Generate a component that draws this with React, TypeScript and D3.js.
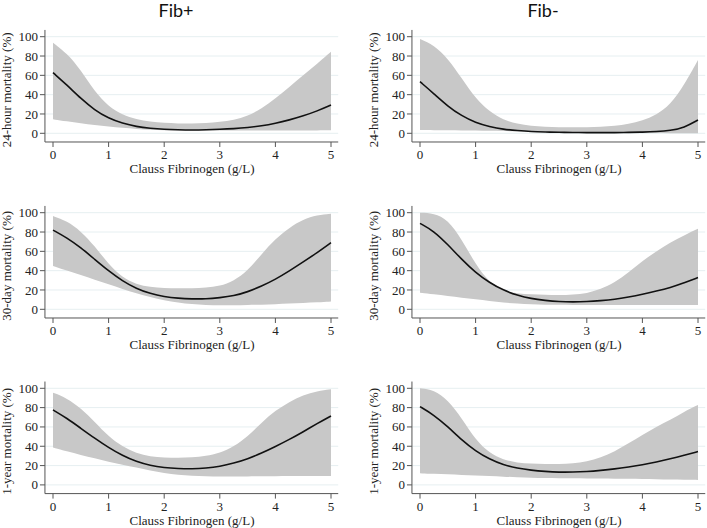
import React, { useEffect, useRef } from 'react';
import * as d3 from 'd3';

// fibrinogen values (g/L) where the curves were read
const fibX = [0, 0.25, 0.5, 0.75, 1, 1.25, 1.5, 1.75, 2, 2.25, 2.5, 2.75, 3, 3.25, 3.5, 3.75, 4, 4.25, 4.5, 4.75, 5];
const xTicks = [0, 1, 2, 3, 4, 5];
const yTicks = [0, 20, 40, 60, 80, 100];
const columnTitles = ['Fib+', 'Fib-'];
const rowLabels = ['24-hour mortality (%)', '30-day mortality (%)', '1-year mortality (%)'];
const xTitle = 'Clauss Fibrinogen (g/L)';

// 24-hour, Fib+
const h24PosFit = [62.8, 50, 36, 24, 15.5, 10.3, 6.9, 5.2, 4.1, 3.6, 3.4, 3.6, 4.1, 4.8, 5.9, 7.6, 10.3, 13.8, 18, 23, 29.3];
const h24PosHi = [93.8, 82.8, 65.5, 43, 27.6, 19, 14.5, 12, 10.7, 10.2, 10, 10.5, 11.7, 13.8, 18, 25.5, 36, 48, 60, 72, 84.5];
const h24PosLo = [14.5, 12.4, 10.3, 8.5, 6.9, 5.6, 4.5, 3.7, 3.1, 2.9, 2.8, 2.8, 2.8, 2.8, 2.8, 2.8, 2.8, 2.9, 3, 3, 3.1];
// 24-hour, Fib-
const h24NegFit = [53.4, 41, 28, 18, 11, 6.9, 4.1, 2.8, 1.7, 1.3, 1, 0.8, 0.7, 0.7, 0.7, 0.9, 1.2, 1.7, 2.8, 5.8, 13.8];
const h24NegHi = [97.6, 91.4, 77.6, 57, 36, 22.4, 13.8, 9.7, 7.6, 6.8, 6.2, 6.2, 6.2, 6.8, 7.6, 9.7, 13, 19, 29.3, 50, 75.9];
const h24NegLo = [3.4, 3.3, 3.1, 3, 2.8, 2.5, 2.3, 2, 1.7, 1.4, 1.2, 0.9, 0.7, 0.6, 0.5, 0.4, 0.3, 0.2, 0.1, 0.05, 0];
// 30-day, Fib+
const d30PosFit = [82, 74, 63.8, 51.7, 39.7, 29.3, 21.4, 16.2, 13.1, 11.4, 10.7, 10.7, 12, 13.8, 18, 24, 31, 39.7, 49, 58.6, 69];
const d30PosHi = [96.5, 91.4, 81, 65.5, 46.5, 32.8, 25.9, 23, 22, 21.8, 21.7, 22.3, 24, 29.3, 39.7, 57, 73, 84.5, 93, 97.6, 99];
const d30PosLo = [44.8, 40, 35.5, 30.7, 25.9, 21, 16.5, 12.6, 9.3, 7, 5.2, 4.5, 4.1, 4.2, 4.5, 4.8, 5.2, 5.9, 6.6, 7.3, 8];
// 30-day, Fib-
const d30NegFit = [89, 81, 67, 51.7, 38, 27.6, 19.7, 14.5, 11, 9.2, 7.9, 7.6, 7.9, 8.9, 10.3, 12.7, 15.5, 18.8, 22.4, 27.4, 32.8];
const d30NegHi = [100, 99.3, 93, 72.4, 46.5, 27.6, 19, 16.2, 15.5, 15, 14.5, 15.2, 16.5, 20.7, 27.6, 38, 50, 60, 69, 76.6, 83.4];
const d30NegLo = [17.2, 15.5, 13.8, 12, 10.3, 8.6, 6.9, 6, 5.2, 4.8, 4.6, 4.5, 4.5, 4.5, 4.5, 4.5, 4.5, 4.5, 4.5, 4.5, 4.5];
// 1-year, Fib+
const y1PosFit = [77.6, 69, 58.6, 48.3, 38.6, 30.3, 24, 20, 17.9, 16.9, 16.5, 17.3, 19, 22.4, 26.9, 32.8, 39.7, 47, 55, 63.5, 71.4];
const y1PosHi = [95.5, 89.7, 79.3, 65.5, 50, 39.7, 32.8, 29.3, 28.3, 28.1, 28.3, 29.8, 32.8, 39.7, 50, 64.5, 77, 86, 93, 97, 99];
const y1PosLo = [38.6, 34.8, 31, 27.5, 24, 21, 17.9, 14.8, 12, 10.4, 9.3, 8.8, 8.6, 8.7, 8.8, 8.9, 9, 9.1, 9.2, 9.3, 9.3];
// 1-year, Fib-
const y1NegFit = [81, 72.4, 60.3, 46.5, 35, 26.6, 20.7, 17.2, 15.2, 13.9, 13.1, 13.2, 13.8, 15, 16.5, 18.5, 20.7, 23.7, 26.9, 30.6, 34.5];
const y1NegHi = [100, 98.3, 88, 69, 46.5, 32.8, 25.9, 23, 22, 21.6, 21.4, 22.3, 24, 28.3, 34.5, 43, 51.7, 60.3, 67, 75.9, 82.8];
const y1NegLo = [12, 11.5, 11, 10.3, 9.7, 9.1, 8.6, 7.9, 7.2, 7, 6.9, 6.8, 6.7, 6.6, 6.5, 6.3, 6.2, 5.9, 5.6, 5.4, 5.2];

const panels = [
    [{ fit: h24PosFit, hi: h24PosHi, lo: h24PosLo }, { fit: h24NegFit, hi: h24NegHi, lo: h24NegLo }],
    [{ fit: d30PosFit, hi: d30PosHi, lo: d30PosLo }, { fit: d30NegFit, hi: d30NegHi, lo: d30NegLo }],
    [{ fit: y1PosFit, hi: y1PosHi, lo: y1PosLo }, { fit: y1NegFit, hi: y1NegHi, lo: y1NegLo }],
];

const App: React.FC = () => {
    const chartRef = useRef<SVGSVGElement>(null);

    useEffect(() => {
        const width = 707;
        const height = 528;
        const svg = d3.select(chartRef.current);
        svg.selectAll('*').remove();
        svg.attr('width', width).attr('height', height);

        const serif = '"Liberation Serif", "Times New Roman", serif';
        const colLeft = [53, 420];
        const rowTop = [36.7, 212.7, 388.3];
        const plotW = 278;
        const plotH = 96.6;

        columnTitles.forEach((t, c) => {
            svg.append('text')
                .attr('x', colLeft[c] + 123)
                .attr('y', 17)
                .attr('text-anchor', 'middle')
                .attr('font-family', 'Lato, "Open Sans", sans-serif')
                .attr('font-size', 18)
                .attr('fill', '#111')
                .text(t);
        });

        panels.forEach((row, r) => {
            row.forEach((p, c) => {
                const x = d3.scaleLinear().domain([0, 5]).range([colLeft[c], colLeft[c] + plotW]);
                const y = d3.scaleLinear().domain([0, 100]).range([rowTop[r] + plotH, rowTop[r]]);
                const g = svg.append('g');
                const axisLeft = x(-0.145);
                const axisRight = x(5.13);
                const axisBottom = y(-9);
                const axisTop = y(107);

                // light gridlines at the y ticks
                g.selectAll('line.grid')
                    .data(yTicks)
                    .enter()
                    .append('line')
                    .attr('x1', axisLeft)
                    .attr('x2', axisRight)
                    .attr('y1', d => y(d))
                    .attr('y2', d => y(d))
                    .attr('stroke', '#e6eff1')
                    .attr('stroke-width', 1);

                const pts = fibX.map((v, i) => ({ x: v, fit: p.fit[i], hi: p.hi[i], lo: p.lo[i] }));

                const area = d3.area<any>()
                    .x(d => x(d.x))
                    .y0(d => y(d.lo))
                    .y1(d => y(d.hi))
                    .curve(d3.curveBasis);

                g.append('path')
                    .attr('d', area(pts) as string)
                    .attr('fill', '#c8c8c8');

                const line = d3.line<any>()
                    .x(d => x(d.x))
                    .y(d => y(d.fit))
                    .curve(d3.curveBasis);

                g.append('path')
                    .attr('d', line(pts) as string)
                    .attr('fill', 'none')
                    .attr('stroke', '#111')
                    .attr('stroke-width', 1.6);

                // axes
                g.append('line')
                    .attr('x1', axisLeft).attr('x2', axisLeft)
                    .attr('y1', axisTop).attr('y2', axisBottom)
                    .attr('stroke', '#555').attr('stroke-width', 1);
                g.append('line')
                    .attr('x1', axisLeft).attr('x2', axisRight)
                    .attr('y1', axisBottom).attr('y2', axisBottom)
                    .attr('stroke', '#555').attr('stroke-width', 1);

                g.selectAll('line.yt')
                    .data(yTicks)
                    .enter()
                    .append('line')
                    .attr('x1', axisLeft - 5).attr('x2', axisLeft)
                    .attr('y1', d => y(d)).attr('y2', d => y(d))
                    .attr('stroke', '#555');
                g.selectAll('text.yt')
                    .data(yTicks)
                    .enter()
                    .append('text')
                    .attr('x', axisLeft - 7)
                    .attr('y', d => y(d))
                    .attr('dy', '0.35em')
                    .attr('text-anchor', 'end')
                    .attr('font-family', serif)
                    .attr('font-size', 13)
                    .attr('fill', '#222')
                    .text(d => d);

                g.selectAll('line.xt')
                    .data(xTicks)
                    .enter()
                    .append('line')
                    .attr('x1', d => x(d)).attr('x2', d => x(d))
                    .attr('y1', axisBottom).attr('y2', axisBottom + 5)
                    .attr('stroke', '#555');
                g.selectAll('text.xt')
                    .data(xTicks)
                    .enter()
                    .append('text')
                    .attr('x', d => x(d))
                    .attr('y', axisBottom + 17.5)
                    .attr('text-anchor', 'middle')
                    .attr('font-family', serif)
                    .attr('font-size', 13)
                    .attr('fill', '#222')
                    .text(d => d);

                g.append('text')
                    .attr('x', x(2.5))
                    .attr('y', axisBottom + 31)
                    .attr('text-anchor', 'middle')
                    .attr('font-family', serif)
                    .attr('font-size', 13)
                    .attr('fill', '#222')
                    .text(xTitle);

                g.append('text')
                    .attr('transform', `translate(${colLeft[c] - 42},${y(45)}) rotate(-90)`)
                    .attr('text-anchor', 'middle')
                    .attr('font-family', serif)
                    .attr('font-size', 13)
                    .attr('fill', '#222')
                    .text(rowLabels[r]);
            });
        });
    }, []);

    return (
        <div style={{ position: 'absolute', left: 0, top: 0, background: '#fff' }}>
            <svg ref={chartRef}></svg>
        </div>
    );
};

export default App;
